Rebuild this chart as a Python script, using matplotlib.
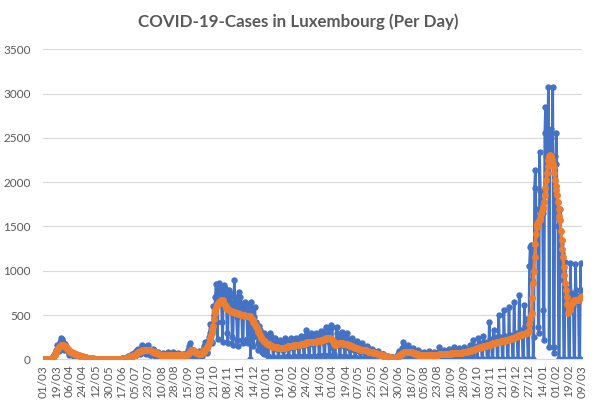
import matplotlib
matplotlib.use("Agg")
import matplotlib.pyplot as plt

# Daily new cases, Luxembourg, starting Sunday 01/03/2020 (one row per week, Sun..Sat)
daily_cases = [
    0, 0, 0, 0, 0, 0, 1,
    1, 2, 2, 4, 7, 12, 20,
    38, 50, 60, 70, 110, 160, 130,
    120, 90, 200, 240, 210, 230, 190,
    140, 100, 170, 150, 120, 110, 90,
    70, 50, 90, 85, 70, 80, 60,
    45, 30, 55, 60, 50, 45, 40,
    30, 20, 40, 35, 30, 38, 25,
    15, 10, 22, 25, 15, 20, 10,
    6, 4, 12, 12, 8, 10, 6,
    4, 3, 8, 6, 5, 7, 4,
    3, 2, 6, 5, 4, 6, 3,
    2, 2, 5, 4, 6, 5, 3,
    2, 1, 5, 6, 4, 5, 3,
    3, 2, 6, 5, 7, 6, 4,
    3, 2, 8, 10, 9, 12, 8,
    8, 10, 20, 25, 30, 35, 25,
    20, 30, 50, 60, 55, 70, 50,
    40, 50, 90, 110, 120, 100, 80,
    60, 70, 150, 160, 130, 140, 100,
    70, 60, 130, 150, 160, 120, 90,
    50, 50, 110, 120, 90, 100, 80,
    40, 30, 70, 80, 70, 60, 50,
    30, 20, 55, 70, 60, 65, 40,
    30, 20, 65, 80, 60, 50, 40,
    30, 25, 60, 85, 70, 55, 40,
    30, 20, 60, 70, 55, 60, 40,
    25, 20, 50, 60, 55, 65, 45,
    30, 25, 70, 100, 150, 180, 110,
    60, 40, 90, 100, 80, 70, 60,
    40, 35, 70, 90, 80, 70, 50,
    45, 40, 110, 130, 150, 200, 130,
    80, 70, 210, 250, 300, 400, 320,
    200, 180, 600, 500, 580, 700, 850,
    420, 230, 780, 860, 830, 800, 720,
    420, 200, 780, 840, 800, 760, 650,
    300, 180, 700, 780, 750, 720, 560,
    250, 160, 620, 890, 650, 700, 480,
    220, 150, 600, 760, 700, 640, 500,
    220, 180, 600, 650, 620, 620, 500,
    230, 180, 620, 580, 0, 650, 540,
    250, 150, 480, 594, 420, 400, 300,
    180, 100, 380, 330, 300, 120, 80,
    70, 60, 300, 280, 120, 100, 150,
    40, 30, 250, 300, 260, 230, 150,
    30, 20, 220, 240, 200, 180, 120,
    30, 20, 190, 220, 200, 170, 110,
    30, 25, 210, 237, 210, 180, 130,
    35, 25, 220, 230, 237, 190, 130,
    35, 25, 230, 237, 220, 210, 140,
    40, 30, 237, 260, 230, 220, 150,
    40, 30, 260, 331, 270, 230, 160,
    40, 30, 280, 300, 260, 240, 170,
    40, 30, 270, 294, 280, 250, 180,
    45, 35, 300, 320, 310, 270, 190,
    50, 40, 340, 368, 340, 310, 200,
    50, 35, 350, 387, 360, 130, 60,
    30, 20, 200, 368, 300, 260, 180,
    40, 30, 270, 310, 260, 230, 150,
    35, 25, 250, 294, 230, 210, 130,
    30, 20, 210, 237, 200, 180, 110,
    25, 20, 180, 210, 160, 150, 90,
    20, 15, 160, 180, 140, 120, 80,
    15, 12, 140, 150, 120, 105, 70,
    12, 10, 110, 115, 95, 85, 50,
    10, 8, 85, 95, 75, 65, 40,
    8, 5, 55, 65, 55, 45, 25,
    5, 4, 35, 40, 30, 28, 15,
    4, 3, 22, 25, 18, 20, 10,
    5, 4, 40, 60, 70, 90, 60,
    20, 15, 130, 199, 140, 120, 80,
    20, 15, 120, 160, 120, 100, 60,
    15, 12, 100, 130, 100, 90, 60,
    12, 10, 80, 105, 80, 70, 40,
    10, 8, 70, 85, 75, 60, 35,
    10, 8, 70, 90, 70, 60, 30,
    10, 8, 65, 85, 75, 65, 35,
    10, 8, 80, 142, 85, 75, 35,
    10, 8, 80, 105, 85, 75, 40,
    12, 8, 90, 115, 95, 85, 45,
    12, 8, 90, 142, 95, 75, 40,
    12, 8, 100, 125, 105, 85, 40,
    12, 10, 110, 142, 115, 95, 50,
    12, 10, 120, 160, 125, 105, 50,
    0, 220, 120, 150, 140, 120, 0,
    0, 237, 130, 180, 160, 140, 0,
    0, 260, 150, 200, 180, 160, 0,
    0, 0, 425, 230, 220, 200, 0,
    0, 331, 220, 250, 230, 200, 0,
    0, 500, 200, 250, 230, 200, 0,
    0, 556, 230, 260, 240, 220, 0,
    0, 594, 250, 280, 260, 240, 0,
    0, 650, 270, 300, 280, 260, 0,
    0, 726, 300, 330, 300, 280, 0,
    0, 613, 380, 420, 450, 300, 0,
    0, 1050, 1270, 1290, 1250, 900, 0,
    250, 1930, 2137, 1700, 1600, 1500, 368,
    300, 2340, 1900, 1800, 1700, 1650, 556,
    218, 2550, 2850, 2300, 2200, 2550, 3080,
    142, 2400, 2600, 2500, 2300, 3080, 142,
    70, 2300, 2200, 2550, 1700, 1500, 0,
    0, 1700, 1300, 1200, 1000, 900, 0,
    0, 1100, 800, 700, 600, 550, 0,
    0, 1087, 750, 700, 650, 600, 0,
    0, 1075, 780, 720, 680, 650, 0,
    0, 1087, 782, 750,
]

# 7-day average series (orange), same days
avg_7day = [
    0, 0, 0, 0, 0, 0, 0,
    0, 1, 1, 2, 3, 4, 7,
    20, 35, 50, 65, 80, 100, 115,
    125, 135, 145, 152, 158, 160, 160,
    158, 154, 148, 140, 132, 124, 116,
    104, 96, 88, 84, 80, 76, 72,
    68, 64, 60, 56, 52, 50, 48,
    45, 42, 40, 37, 35, 32, 30,
    28, 25, 22, 20, 18, 17, 16,
    15, 14, 12, 11, 10, 10, 9,
    8, 8, 7, 7, 6, 6, 6,
    5, 5, 5, 5, 5, 4, 4,
    4, 4, 4, 4, 4, 4, 4,
    4, 4, 4, 4, 4, 4, 4,
    4, 4, 5, 5, 5, 5, 5,
    5, 5, 6, 7, 7, 8, 8,
    9, 10, 12, 15, 18, 21, 23,
    25, 28, 33, 38, 42, 46, 48,
    52, 57, 63, 70, 78, 84, 88,
    90, 94, 98, 100, 102, 104, 105,
    105, 104, 104, 105, 106, 105, 104,
    100, 96, 92, 88, 85, 82, 80,
    76, 72, 68, 64, 60, 57, 54,
    52, 50, 48, 47, 46, 46, 46,
    46, 46, 46, 47, 47, 47, 47,
    47, 48, 49, 50, 50, 50, 50,
    50, 49, 48, 48, 47, 47, 46,
    46, 45, 45, 46, 46, 47, 47,
    48, 50, 55, 62, 72, 85, 95,
    100, 103, 103, 100, 95, 88, 80,
    74, 70, 67, 65, 64, 64, 64,
    66, 70, 78, 88, 100, 112, 120,
    127, 140, 160, 180, 210, 240, 270,
    296, 330, 380, 450, 520, 560, 590,
    610, 625, 632, 645, 655, 662, 668,
    670, 665, 650, 630, 610, 595, 580,
    572, 566, 560, 555, 550, 545, 540,
    537, 535, 532, 530, 528, 525, 522,
    518, 515, 512, 510, 507, 505, 502,
    500, 498, 496, 494, 492, 490, 490,
    490, 490, 488, 486, 484, 470, 455,
    440, 425, 406, 390, 375, 365, 350,
    330, 312, 295, 275, 255, 240, 228,
    220, 212, 205, 195, 185, 180, 178,
    175, 170, 165, 160, 155, 150, 145,
    142, 140, 138, 136, 135, 134, 133,
    130, 128, 126, 125, 124, 124, 124,
    126, 128, 130, 133, 136, 139, 142,
    145, 147, 149, 150, 151, 152, 153,
    155, 156, 157, 158, 159, 160, 161,
    162, 164, 166, 168, 170, 172, 173,
    175, 178, 182, 186, 189, 191, 193,
    194, 195, 196, 196, 197, 197, 198,
    198, 199, 200, 200, 201, 202, 203,
    205, 208, 211, 214, 217, 219, 221,
    224, 228, 232, 235, 237, 238, 238,
    237, 236, 232, 228, 218, 205, 190,
    170, 161, 165, 170, 175, 178, 180,
    182, 183, 183, 182, 180, 178, 176,
    174, 172, 170, 168, 165, 162, 160,
    156, 152, 148, 145, 142, 139, 136,
    133, 130, 127, 124, 121, 118, 115,
    112, 110, 108, 106, 105, 104, 104,
    103, 100, 97, 94, 91, 88, 86,
    84, 82, 80, 77, 75, 72, 70,
    68, 66, 64, 62, 60, 57, 55,
    52, 49, 46, 43, 40, 38, 36,
    34, 32, 30, 28, 26, 24, 22,
    20, 18, 16, 15, 14, 13, 13,
    14, 16, 22, 30, 38, 45, 50,
    58, 64, 70, 76, 82, 86, 88,
    88, 88, 88, 87, 86, 85, 84,
    82, 79, 76, 73, 70, 67, 64,
    61, 58, 55, 52, 50, 49, 48,
    48, 48, 48, 48, 48, 48, 48,
    48, 48, 48, 48, 48, 48, 48,
    48, 48, 48, 48, 48, 48, 48,
    50, 51, 53, 55, 56, 57, 58,
    58, 58, 58, 58, 58, 58, 58,
    60, 61, 62, 63, 64, 65, 66,
    66, 67, 67, 67, 67, 67, 67,
    68, 69, 70, 71, 72, 73, 74,
    75, 77, 79, 81, 83, 85, 86,
    88, 90, 92, 94, 96, 98, 100,
    102, 105, 108, 112, 116, 120, 124,
    126, 128, 130, 132, 134, 137, 140,
    142, 145, 148, 150, 152, 154, 156,
    158, 160, 163, 166, 170, 174, 178,
    180, 182, 184, 186, 188, 190, 192,
    194, 196, 198, 200, 202, 204, 206,
    208, 210, 212, 214, 216, 218, 220,
    222, 225, 228, 231, 234, 237, 240,
    243, 246, 249, 252, 255, 258, 262,
    266, 270, 274, 277, 280, 282, 284,
    286, 288, 290, 294, 298, 302, 306,
    320, 400, 460, 500, 520, 690, 860,
    1000, 1150, 1300, 1420, 1497, 1530, 1550,
    1560, 1573, 1600, 1640, 1680, 1700, 1723,
    1780, 1850, 1930, 2024, 2100, 2180, 2250,
    2290, 2306, 2300, 2280, 2250, 2210, 2175,
    2100, 2020, 1960, 1911, 1850, 1780, 1700,
    1620, 1573, 1450, 1347, 1250, 1150, 1046,
    950, 860, 780, 707, 620, 520, 540,
    560, 590, 610, 635, 650, 660, 665,
    668, 670, 670, 670, 672, 675, 680,
    690, 700, 705, 710,
]

tick_labels = [
    "01/03", "19/03", "06/04", "24/04", "12/05", "30/05", "17/06", "05/07",
    "23/07", "10/08", "28/08", "15/09", "03/10", "21/10", "08/11", "26/11",
    "14/12", "01/01", "19/01", "06/02", "24/02", "14/03", "01/04", "19/04",
    "07/05", "25/05", "12/06", "30/06", "18/07", "05/08", "23/08", "10/09",
    "28/09", "16/10", "03/11", "21/11", "09/12", "27/12", "14/01", "01/02",
    "19/02", "09/03",
]
y_ticks = [0, 500, 1000, 1500, 2000, 2500, 3000, 3500]
title = "COVID-19-Cases in Luxembourg (Per Day)"

assert len(daily_cases) == len(avg_7day)

plt.rcParams['font.family'] = ['Lato', 'DejaVu Sans']

W, H = 597, 405
fig = plt.figure(figsize=(W / 100, H / 100), dpi=100)
ax = fig.add_axes([43 / W, (H - 359.3) / H, (582 - 43) / W, 310 / H])

days = list(range(len(daily_cases)))
ax.plot(days, daily_cases, color='#4472C4', lw=1.9, marker='o', ms=4.6,
        markeredgewidth=0, zorder=2)
ax.plot(days, avg_7day, color='#ED7D31', lw=2.3, marker='o', ms=5.0,
        markeredgewidth=0, zorder=3)

ax.set_xlim(0, len(daily_cases) - 1)
ax.set_ylim(0, 3500)
ax.set_yticks(y_ticks)
ax.set_yticklabels([str(v) for v in y_ticks])
ax.set_xticks(list(range(0, len(daily_cases), 18))[:len(tick_labels)])
ax.set_xticklabels(tick_labels, rotation=90)
ax.tick_params(axis='both', length=0, colors='#595959', labelsize=8.5)
ax.tick_params(axis='y', pad=9)
ax.tick_params(axis='x', pad=4)
ax.yaxis.grid(True, color='#D9D9D9', lw=0.8, zorder=0)
ax.set_axisbelow(True)
for s in ['top', 'right', 'left']:
    ax.spines[s].set_visible(False)
ax.spines['bottom'].set_color('#D9D9D9')

fig.text(0.5, 1 - 22 / H, title, ha='center', va='center', fontsize=12.2,
         fontweight='bold', color='#595959')

fig.savefig('out.png', dpi=100)
